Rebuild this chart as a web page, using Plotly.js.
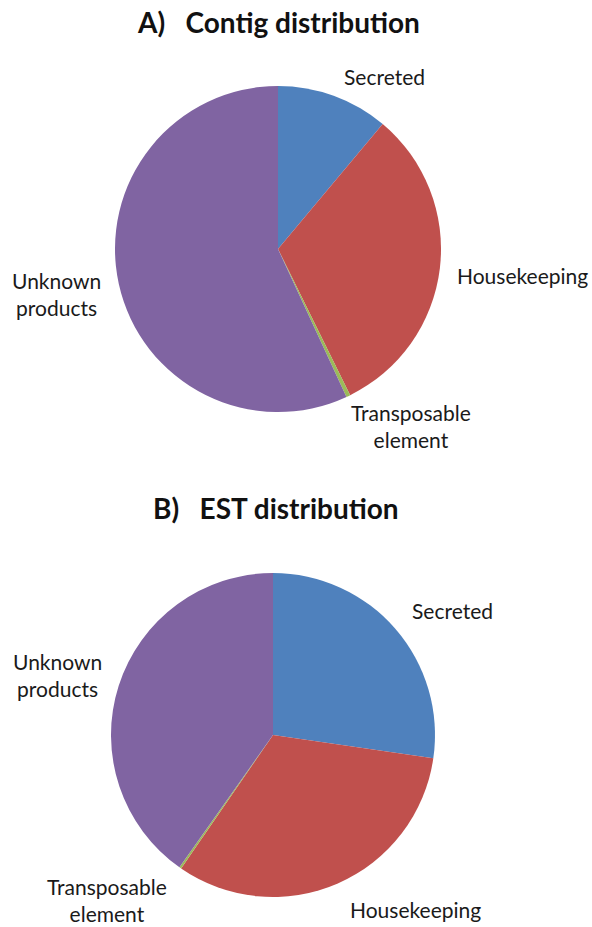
<!DOCTYPE html>
<html>
<head>
<meta charset="utf-8">
<script src="https://cdn.plot.ly/plotly-3.0.1.min.js"></script>
<style>html,body{margin:0;padding:0;background:#fff}#chart{width:592px;height:927px}</style>
</head>
<body>
<div id="chart"></div>
<script>
// Data
const categories = ["Secreted", "Housekeeping", "Transposable element", "Unknown products"];
const contigValues = [11.1, 31.6, 0.4, 56.9];
const estValues = [27.3, 32.3, 0.2, 40.2];
const colors = ["#4F81BD", "#C0504D", "#9BBB59", "#8064A2"];
const titleA = "A)   Contig distribution";
const titleB = "B)   EST distribution";

const W = 592, H = 927;
function px(x){return x / W;}
function py(y){return 1 - y / H;}

const pieCommon = {
  type: "pie",
  labels: categories,
  sort: false,
  direction: "clockwise",
  rotation: 0,
  textinfo: "none",
  hoverinfo: "label+percent",
  showlegend: false,
  marker: {colors: colors, line: {width: 0}}
};

const traceA = Object.assign({}, pieCommon, {
  values: contigValues,
  domain: {x: [px(115), px(441)], y: [py(412), py(86)]}
});
const traceB = Object.assign({}, pieCommon, {
  values: estValues,
  domain: {x: [px(111), px(435)], y: [py(897), py(573)]}
});

const labFont = {family: "Lato, 'Open Sans', sans-serif", size: 21, color: "#1a1a1a"};
const titleFont = {family: "Lato, 'Open Sans', sans-serif", size: 28, color: "#111"};

function ann(text, x, y, font){
  return {text: text, x: px(x), y: py(y), xref: "paper", yref: "paper",
          showarrow: false, xanchor: "center", yanchor: "middle", font: font, align: "center"};
}

const annotations = [
  ann("<b>" + titleA + "</b>", 278, 22, titleFont),
  ann("Secreted", 384, 76, labFont),
  ann("Housekeeping", 522, 275, labFont),
  ann("Transposable<br>element", 411, 426, labFont),
  ann("Unknown<br>products", 56, 294, labFont),
  ann("<b>" + titleB + "</b>", 276, 508, titleFont),
  ann("Secreted", 452, 610, labFont),
  ann("Unknown<br>products", 57, 675, labFont),
  ann("Transposable<br>element", 107, 900, labFont),
  ann("Housekeeping", 415, 909, labFont)
];

const layout = {
  width: W, height: H,
  margin: {l: 0, r: 0, t: 0, b: 0},
  paper_bgcolor: "#ffffff",
  plot_bgcolor: "#ffffff",
  showlegend: false,
  annotations: annotations
};

Plotly.newPlot("chart", [traceA, traceB], layout, {displayModeBar: false, staticPlot: true});
</script>
</body>
</html>
